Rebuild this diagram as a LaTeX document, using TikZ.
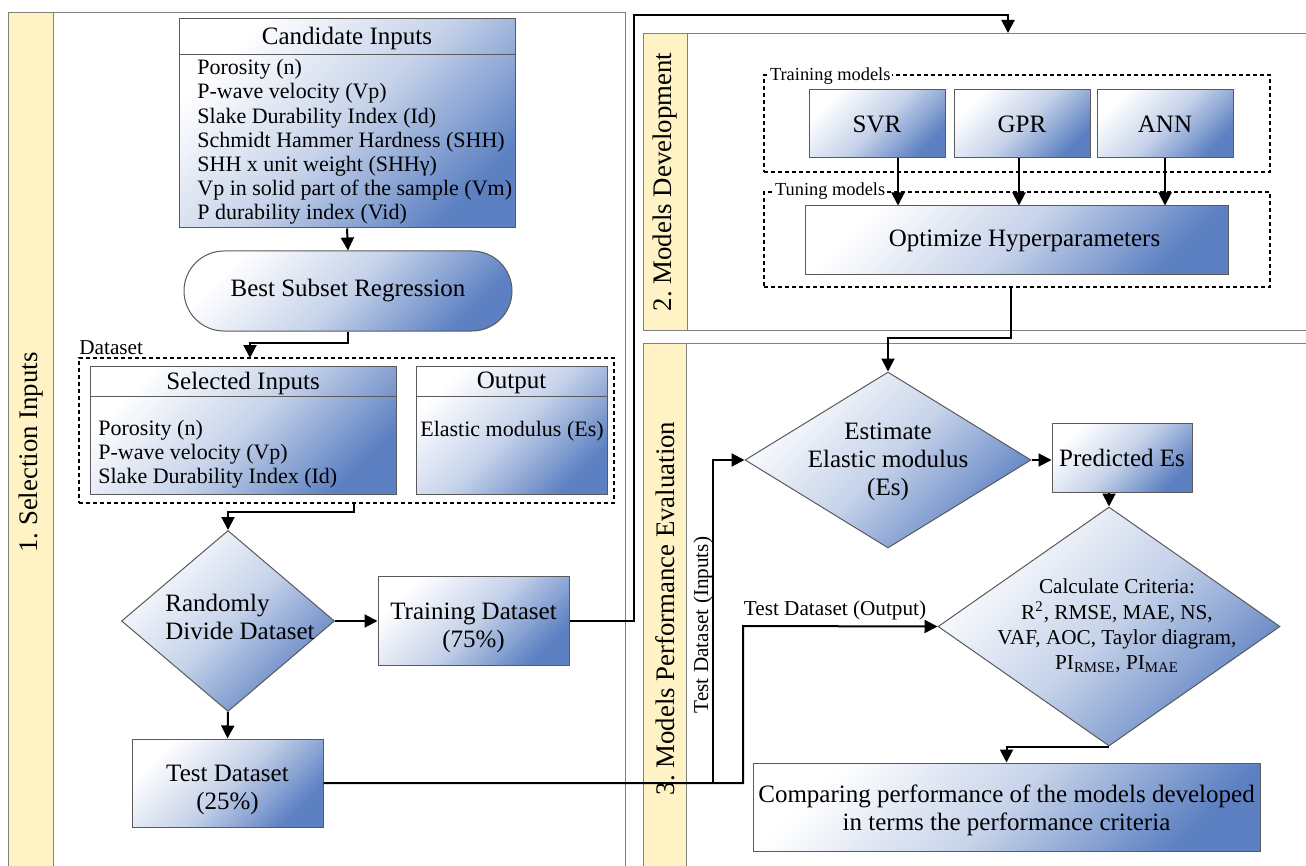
\documentclass[tikz,border=0pt]{standalone}
\usepackage{fontspec}
\setmainfont{Liberation Serif}
\usepackage{tikz}
\usetikzlibrary{shapes.geometric, shapes.misc, arrows.meta, positioning}
\definecolor{boxblue}{RGB}{92,128,194}
\definecolor{stripyel}{RGB}{255,242,196}
\definecolor{edgegray}{RGB}{90,90,90}
\newcommand{\bigtxt}{\fontsize{12.5pt}{14pt}\selectfont}
\newcommand{\midtxt}{\fontsize{11pt}{12.1pt}\selectfont}
\newcommand{\lbltxt}{\fontsize{10.6pt}{12.6pt}\selectfont}
\newcommand{\tinytxt}{\fontsize{9.2pt}{10pt}\selectfont}
\newcommand{\striptxt}{\fontsize{13.4pt}{16pt}\selectfont}
\tikzstyle{blueshade} = [top color=white, bottom color=boxblue, middle color=boxblue!35, shading angle=45]
\tikzstyle{sbox} = [rectangle, draw=edgegray, line width=0.5pt, blueshade, inner sep=0pt]
\tikzstyle{dbox} = [diamond, draw=edgegray, line width=0.5pt, blueshade, inner sep=0pt]
\tikzstyle{pill} = [rounded rectangle, draw=edgegray, line width=0.5pt, blueshade, inner sep=0pt]
\tikzstyle{panel} = [rectangle, draw=gray, line width=0.5pt, inner sep=0pt, anchor=north west]
\tikzstyle{panelstrip} = [rectangle, draw=gray, fill=stripyel, line width=0.5pt, inner sep=0pt, anchor=north west]
\tikzstyle{dashbox} = [rectangle, draw=black, line width=0.7pt, dash pattern=on 2pt off 1.5pt, inner sep=0pt]
\tikzstyle{divider} = [draw=edgegray, line width=0.5pt]
\tikzstyle{line} = [draw, line width=1pt]
\tikzstyle{arrow} = [draw, line width=1pt, -{Triangle[length=6.5pt, width=6.5pt]}]

\begin{document}
\begin{tikzpicture}[x=0.5pt, y=-0.5pt]
			\useasboundingbox (0,0) rectangle (1306,866);
			\clip (0,0) rectangle (1306,866);

			\node [panel, minimum width=308.5pt, minimum height=440pt] (pnl1) at (8,12) {};
			\node [panelstrip, minimum width=22.5pt, minimum height=440pt] (bar1) at (8,12) {};
			\node [rotate=90, font=\striptxt] (bar1txt) at (bar1) {1.\ Selection Inputs};
			\node [panel, minimum width=333.5pt, minimum height=148.5pt] (pnl2) at (643,33) {};
			\node [panelstrip, minimum width=22pt, minimum height=148.5pt] (bar2) at (643,33) {};
			\node [rotate=90, font=\striptxt] (bar2txt) at (bar2) {2.\ Models Development};
			\node [panel, minimum width=333.5pt, minimum height=265pt] (pnl3) at (643,343) {};
			\node [panelstrip, minimum width=21.5pt, minimum height=265pt] (bar3) at (643,343) {};
			\node [rotate=90, font=\striptxt] (bar3txt) at (bar3) {3.\ Models Performance Evaluation};

			\node [sbox, minimum width=168pt, minimum height=104.5pt] (cand) at (347,123.5) {};
			\path [divider] ([yshift=-18pt]cand.north west) -- ([yshift=-18pt]cand.north east);
			\node [font=\bigtxt] (candhead) at (347,38) {Candidate Inputs};
			\node [font=\midtxt, align=left, anchor=west, inner sep=0pt] (candlist) at (197,142) {Porosity (n)\\P-wave velocity (Vp)\\Slake Durability Index (Id)\\Schmidt Hammer Hardness (SHH)\\SHH x unit weight (SHHγ)\\Vp in solid part of the sample (Vm)\\P durability index (Vid)};
			\node [pill, minimum width=164pt, minimum height=40pt, font=\bigtxt] (best) at (348,291) {Best Subset Regression};

			\node [dashbox, minimum width=267.5pt, minimum height=72.5pt] (dset) at (346.5,430.5) {};
			\node [font=\lbltxt, anchor=south west, inner sep=0pt] (dsetlbl) at (79,355) {Dataset};
			\node [sbox, minimum width=153pt, minimum height=64pt] (sel) at (243,430) {};
			\path [divider] ([yshift=-15.5pt]sel.north west) -- ([yshift=-15.5pt]sel.north east);
			\node [font=\bigtxt] (selhead) at (243,383) {Selected Inputs};
			\node [font=\midtxt, align=left, anchor=west, inner sep=0pt] (sellist) at (98,454) {Porosity (n)\\P-wave velocity (Vp)\\Slake Durability Index (Id)};
			\node [sbox, minimum width=95.5pt, minimum height=64pt] (out) at (511.5,430) {};
			\path [divider] ([yshift=-15.5pt]out.north west) -- ([yshift=-15.5pt]out.north east);
			\node [font=\bigtxt] (outhead) at (511.5,383) {Output};
			\node [font=\midtxt, inner sep=0pt] (outlist) at (512,431) {Elastic modulus (Es)};

			\node [dbox, minimum width=106.5pt, minimum height=90.5pt] (rand) at (228,621) {};
			\node [font=\bigtxt, align=left] (randtxt) at (240,617) {Randomly\\Divide Dataset};
			\node [sbox, minimum width=95.5pt, minimum height=44.5pt] (train) at (473.5,621) {};
			\node [font=\bigtxt, align=center] (traintxt) at (473.5,628) {Training Dataset\\(75\%)};
			\node [sbox, minimum width=95.5pt, minimum height=44pt] (test) at (227.5,783) {};
			\node [font=\bigtxt, align=center] (testtxt) at (227.5,790) {Test Dataset\\(25\%)};

			\node [dashbox, minimum width=253pt, minimum height=48.5pt] (trnbox) at (1017,123.5) {};
			\node [font=\tinytxt, fill=white, inner sep=0.8pt, anchor=west] (trnlbl) at (768,76) {Training models};
			\node [sbox, minimum width=68pt, minimum height=34pt, font=\bigtxt] (svr) at (877,124) {SVR};
			\node [sbox, minimum width=68pt, minimum height=34pt, font=\bigtxt] (gpr) at (1022,124) {GPR};
			\node [sbox, minimum width=68pt, minimum height=34pt, font=\bigtxt] (ann) at (1165,124) {ANN};
			\node [dashbox, minimum width=253pt, minimum height=47.5pt] (tunbox) at (1017,239.5) {};
			\node [font=\tinytxt, fill=white, inner sep=0.8pt, anchor=west] (tunlbl) at (773,191) {Tuning models};
			\node [sbox, minimum width=211.5pt, minimum height=34.5pt, font=\bigtxt] (opt) at (1016.5,240.5) {\hspace*{8pt}Optimize Hyperparameters};

			\node [dbox, minimum width=143pt, minimum height=88pt] (est) at (888,460) {};
			\node [font=\bigtxt, align=center] (esttxt) at (888,462) {Estimate\\Elastic modulus\\(Es)};
			\node [sbox, minimum width=70pt, minimum height=34.5pt, font=\bigtxt] (pred) at (1122,458) {Predicted Es};
			\node [dbox, minimum width=171pt, minimum height=119.5pt] (calc) at (1109,626.5) {};
			\node [font=\lbltxt, align=center] (calctxt) at (1117,626) {Calculate Criteria:\\R\textsuperscript{2}, RMSE, MAE, NS,\\VAF, AOC, Taylor diagram,\\PI\textsubscript{RMSE}, PI\textsubscript{MAE}};
			\node [sbox, minimum width=253.5pt, minimum height=44pt] (cmp) at (1006.5,807) {};
			\node [font=\bigtxt, align=center] (cmptxt) at (1006.5,810) {Comparing performance of the models developed\\in terms the performance criteria};
			\node [font=\lbltxt, rotate=90] (inlbl) at (703,625) {Test Dataset (Inputs)};
			\node [font=\lbltxt] (outlbl) at (835,610) {Test Dataset (Output)};

			\coordinate (dsetin) at (250,358);
			\coordinate (dsetout) at (354,503);
			\coordinate (up1) at (634,15);
			\coordinate (pnl2in) at (1008,33);
			\coordinate (inp) at (713,460);
			\coordinate (outp) at (743,626);

			\path [arrow] (cand.south) -- (best.north);
			\path [arrow] (best.south) -- ++(0,11) -| (dsetin);
			\path [arrow] (dsetout) -- ++(0,9) -| (rand.north);
			\path [arrow] (rand.east) -- (train.west);
			\path [arrow] (rand.south) -- (test.north);
			\path [arrow] (train.east) -| (up1) -| (pnl2in);
			\path [arrow] ([xshift=10.5pt]svr.south) -- ([xshift=10.5pt]svr.south |- opt.north);
			\path [arrow] ([xshift=-1.5pt]gpr.south) -- ([xshift=-1.5pt]gpr.south |- opt.north);
			\path [arrow] (ann.south) -- (ann.south |- opt.north);
			\path [arrow] ([xshift=-3pt]tunbox.south) -- ++(0,50) -| (est.north);
			\path [arrow] (test.east) -| (inp) -- (est.west);
			\path [arrow] (test.east) -| (outp) -- (calc.west);
			\path [arrow] (est.east) -- (est.east -| pred.west);
			\path [arrow] (calc.north |- pred.south) -- (calc.north);
			\path [arrow] (calc.south) -| (cmp.north);
		\end{tikzpicture}
\end{document}
